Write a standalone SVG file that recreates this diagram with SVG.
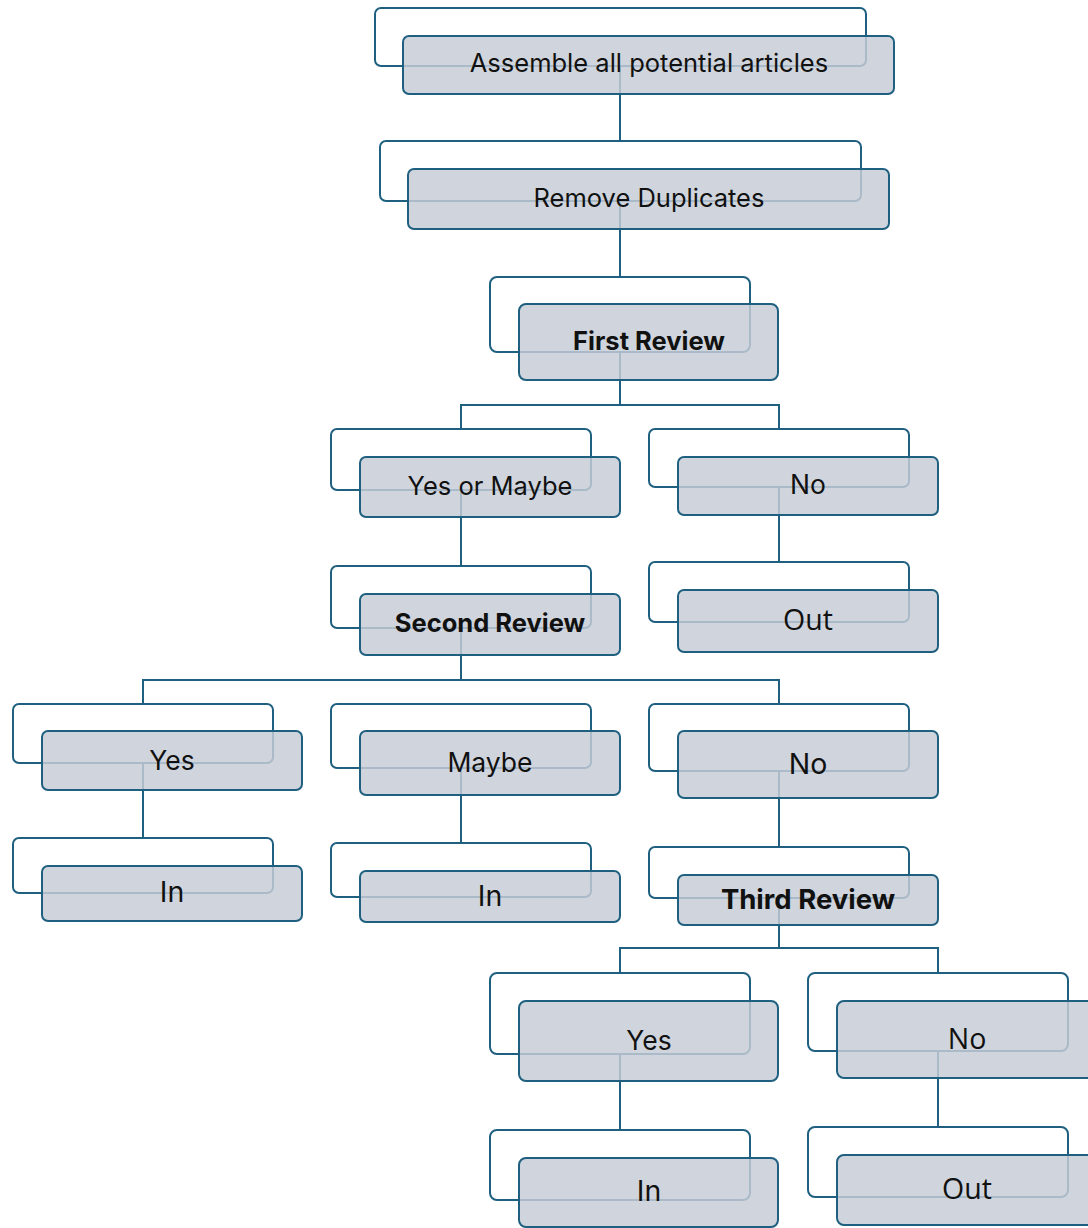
<svg xmlns="http://www.w3.org/2000/svg" width="1088" height="1228" viewBox="0 0 1088 1228">
<style>
.bk{fill:#fff;stroke:#1f6080;stroke-width:2}
.fr{fill:#c7cdd6;fill-opacity:0.83;stroke:#1f6080;stroke-width:2}
.t{font-family:Inter,"Liberation Sans",sans-serif;font-size:25.5px;fill:#111;text-anchor:middle}
.l{font-size:26.5px}
.x{font-size:28.5px}
.o{font-family:"Open Sans","Liberation Sans",sans-serif;font-size:28.5px}
.b{font-weight:bold}
.c{fill:none;stroke:#1f6080;stroke-width:2}
</style>
<rect width="1088" height="1228" fill="#fff"/>
<g id="connectors">
<path class="c" d="M620,66V141"/>
<path class="c" d="M620,201V277"/>
<path class="c" d="M620,352V405M461,429V405H779V429"/>
<path class="c" d="M461,490V566"/>
<path class="c" d="M779,487V562"/>
<path class="c" d="M461,628V680M143,704V680H779V704"/>
<path class="c" d="M143,763V838"/>
<path class="c" d="M461,768V843"/>
<path class="c" d="M779,771V847"/>
<path class="c" d="M779,898V948M620,973V948H938V973"/>
<path class="c" d="M620,1054V1130"/>
<path class="c" d="M938,1051V1127"/>
</g>
<g id="n1"><rect class="bk" x="375" y="8" width="491" height="58" rx="6"/><rect class="fr" x="403" y="36" width="491" height="58" rx="6"/><text class="t" x="649" y="72">Assemble all potential articles</text></g>
<g id="n2"><rect class="bk" x="380" y="141" width="481" height="60" rx="6"/><rect class="fr" x="408" y="169" width="481" height="60" rx="6"/><text class="t" x="649" y="207">Remove Duplicates</text></g>
<g id="n3"><rect class="bk" x="490" y="277" width="260" height="75" rx="7"/><rect class="fr" x="519" y="304" width="259" height="76" rx="7"/><text class="t b" x="649" y="350">First Review</text></g>
<g id="n4"><rect class="bk" x="331" y="429" width="260" height="61" rx="6"/><rect class="fr" x="360" y="457" width="260" height="60" rx="6"/><text class="t" x="490" y="495">Yes or Maybe</text></g>
<g id="n5"><rect class="bk" x="649" y="429" width="260" height="58" rx="6"/><rect class="fr" x="678" y="457" width="260" height="58" rx="6"/><text class="t l" x="808" y="494">No</text></g>
<g id="n6"><rect class="bk" x="649" y="562" width="260" height="60" rx="6"/><rect class="fr" x="678" y="590" width="260" height="62" rx="6"/><text class="t o" x="808" y="630">Out</text></g>
<g id="n7"><rect class="bk" x="331" y="566" width="260" height="62" rx="6"/><rect class="fr" x="360" y="594" width="260" height="61" rx="6"/><text class="t b" x="490" y="632">Second Review</text></g>
<g id="n8"><rect class="bk" x="13" y="704" width="260" height="59" rx="6"/><rect class="fr" x="42" y="731" width="260" height="59" rx="6"/><text class="t l" x="172" y="770">Yes</text></g>
<g id="n9"><rect class="bk" x="331" y="704" width="260" height="64" rx="6"/><rect class="fr" x="360" y="731" width="260" height="64" rx="6"/><text class="t l" x="490" y="772">Maybe</text></g>
<g id="n10"><rect class="bk" x="649" y="704" width="260" height="67" rx="6"/><rect class="fr" x="678" y="731" width="260" height="67" rx="6"/><text class="t x" x="808" y="774">No</text></g>
<g id="n11"><rect class="bk" x="13" y="838" width="260" height="55" rx="6"/><rect class="fr" x="42" y="866" width="260" height="55" rx="6"/><text class="t x" x="172" y="902">In</text></g>
<g id="n12"><rect class="bk" x="331" y="843" width="260" height="54" rx="6"/><rect class="fr" x="360" y="871" width="260" height="51" rx="6"/><text class="t x" x="490" y="906">In</text></g>
<g id="n13"><rect class="bk" x="649" y="847" width="260" height="51" rx="6"/><rect class="fr" x="678" y="875" width="260" height="50" rx="6"/><text class="t b" x="808" y="909" style="font-size:27.5px">Third Review</text></g>
<g id="n14"><rect class="bk" x="490" y="973" width="260" height="81" rx="7"/><rect class="fr" x="519" y="1001" width="259" height="80" rx="7"/><text class="t l" x="649" y="1050">Yes</text></g>
<g id="n15"><rect class="bk" x="808" y="973" width="260" height="78" rx="7"/><rect class="fr" x="837" y="1001" width="260" height="77" rx="7"/><text class="t o" x="967" y="1049">No</text></g>
<g id="n16"><rect class="bk" x="490" y="1130" width="260" height="70" rx="7"/><rect class="fr" x="519" y="1158" width="259" height="69" rx="7"/><text class="t x" x="649" y="1201">In</text></g>
<g id="n17"><rect class="bk" x="808" y="1127" width="260" height="70" rx="7"/><rect class="fr" x="837" y="1155" width="260" height="70" rx="7"/><text class="t o" x="967" y="1199">Out</text></g>
</svg>
